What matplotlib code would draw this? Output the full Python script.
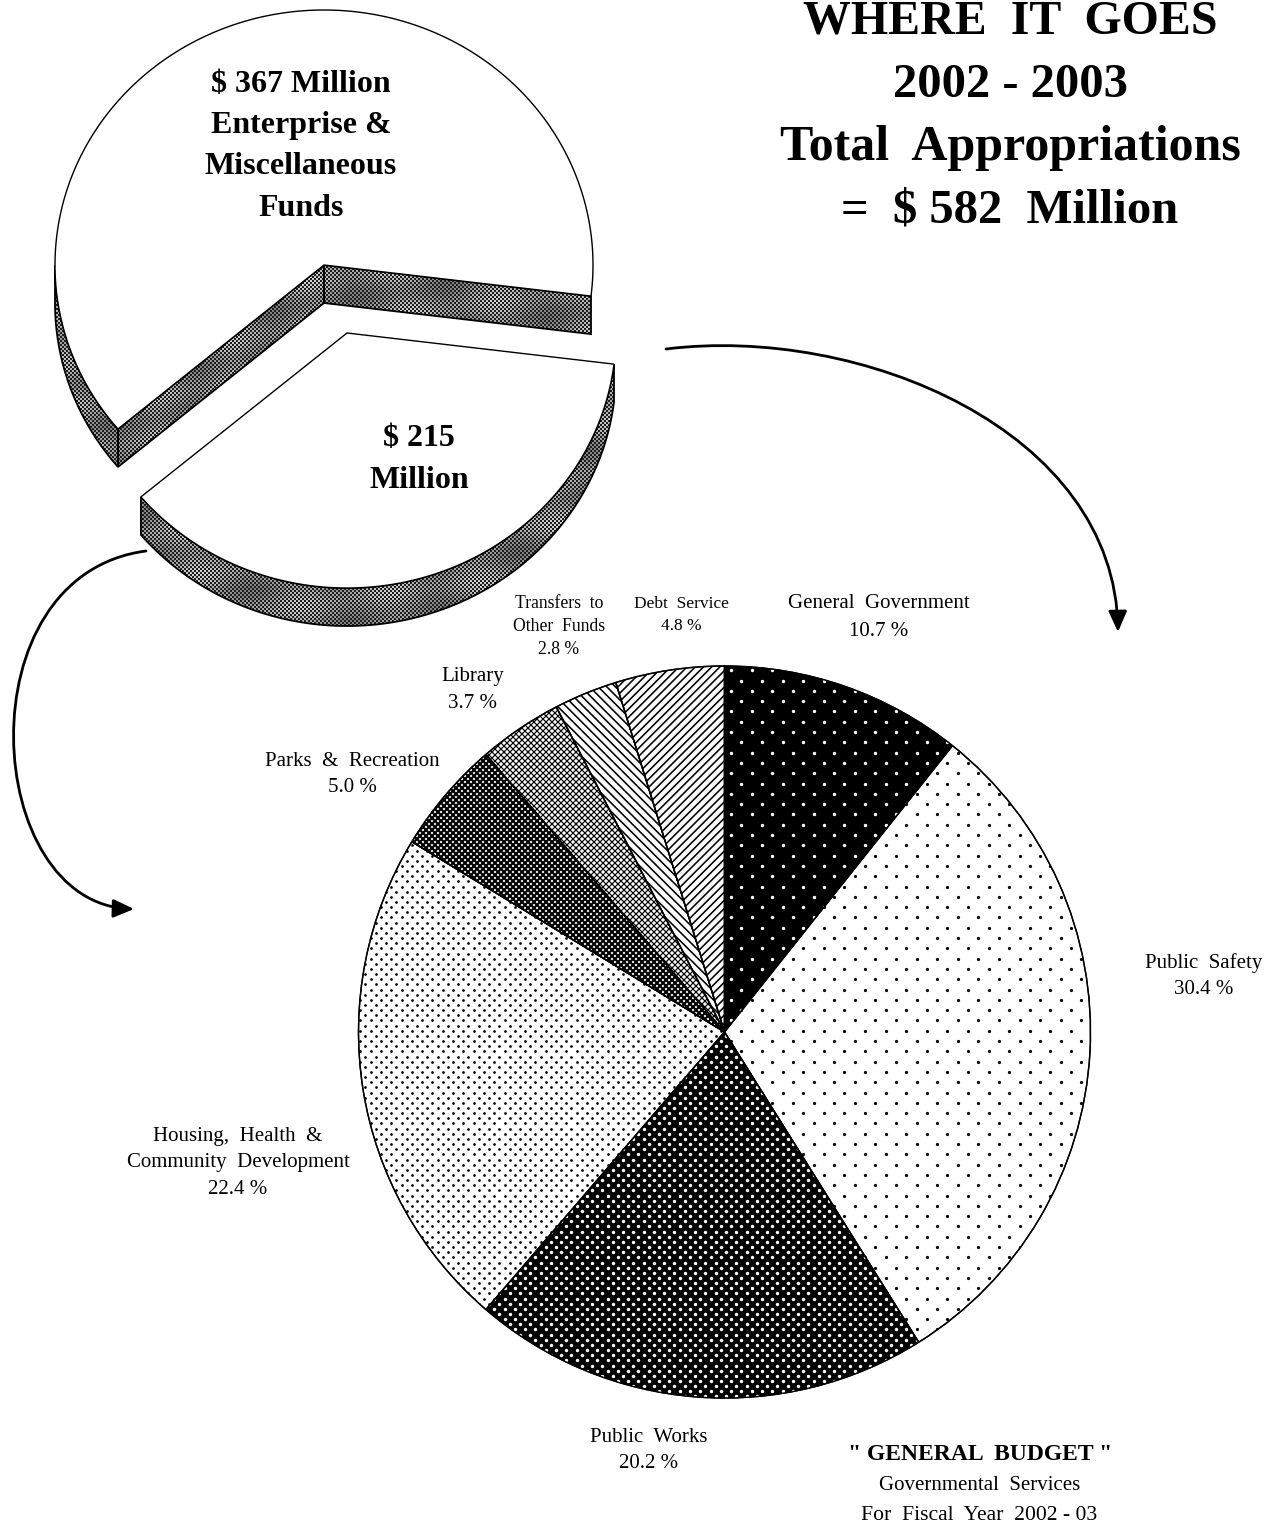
import numpy as np
import matplotlib
matplotlib.use('Agg')
import matplotlib.pyplot as plt
from matplotlib.collections import LineCollection
from matplotlib.patches import FancyArrowPatch, Polygon, Wedge
from matplotlib.path import Path

# budget split, $ million
fund_names = ["Enterprise & Miscellaneous Funds", "General Budget"]
fund_values = [367, 215]

# general budget, percent
budget_names = ["General  Government", "Public  Safety", "Public  Works",
                "Housing,  Health  &\nCommunity  Development", "Parks  &  Recreation",
                "Library", "Transfers  to\nOther  Funds", "Debt  Service"]
budget_values = [10.7, 30.4, 20.2, 22.4, 5.0, 3.7, 2.8, 4.8]

title_lines = ["WHERE  IT  GOES", "2002 - 2003", "Total  Appropriations", "=  $ 582  Million"]
fund_text_top = ["$ 367 Million", "Enterprise &", "Miscellaneous", "Funds"]
fund_text_low = ["$ 215", "Million"]
note_lines = ['" GENERAL  BUDGET "', "Governmental  Services", "For  Fiscal  Year  2002 - 03"]

W, H = 1266, 1522
SERIF = 'Liberation Serif'

fig = plt.figure(figsize=(W / 100, H / 100), dpi=100, facecolor='white')
ax = fig.add_axes([0, 0, 1, 1])


def dots(wedge, pitch, size, color):
	# staggered dot screen clipped to one slice
	xs, ys = [], []
	for row, y in enumerate(np.arange(660, 1400, pitch / 2)):
		off = pitch / 2 if row % 2 else 0
		for x in np.arange(350 + off, 1100, pitch):
			xs.append(x)
			ys.append(y)
	sc = ax.scatter(xs, ys, s=(size * 0.72) ** 2, c=color, linewidths=0, zorder=3)
	sc.set_clip_path(wedge)


def lines(wedge, pitch, lw, slope):
	# 45 degree line screen, slope is +1 or -1 on the page
	segs = []
	for c in np.arange(-2500, 2500, pitch):
		segs.append([(0, c), (W, c + slope * W)])
	lc = LineCollection(segs, colors='black', linewidths=lw * 0.72, zorder=3)
	ax.add_collection(lc)
	lc.set_clip_path(wedge)


def gray_fill(px, py):
	# halftone grey of the pie sides
	x0, x1 = int(min(px)) - 1, int(max(px)) + 2
	y0, y1 = int(min(py)) - 1, int(max(py)) + 2
	yy, xx = np.mgrid[y0:y1, x0:x1]
	light = 0.66 + 0.16 * np.sin(xx / 23.0 + yy / 17.0) * np.sin(xx / 41.0 - yy / 13.0)
	img = np.where(((xx // 2) + (yy // 2)) % 2 == 0, 0.12, light)
	poly = Polygon(np.column_stack([px, py]), closed=True, fc='none', ec='black', lw=1.3, zorder=2)
	ax.add_patch(poly)
	im = ax.imshow(img, cmap='gray', vmin=0, vmax=1, extent=(x0, x1, y1, y0),
				   interpolation='nearest', aspect='auto', zorder=1)
	im.set_clip_path(poly)


def arc(cx, cy, t):
	t = np.radians(t)
	return cx + 269 * np.cos(t), cy - 255 * np.sin(t)


def wall(x, y, depth=38):
	gray_fill(np.r_[x, x[::-1]], np.r_[y, y[::-1] + depth])


# upper pie, enterprise funds
sweep_top = fund_values[0] / sum(fund_values) * 360
t_top = np.linspace(-7, -7 + sweep_top, 200)
ax_t, ay_t = arc(324, 265, t_top)
wall(ax_t[t_top >= 180], ay_t[t_top >= 180])
wall(np.array([324, ax_t[-1]]), np.array([265, ay_t[-1]]))
wall(np.array([324, ax_t[0]]), np.array([265, ay_t[0]]))
ax.fill(np.r_[324, ax_t, 324], np.r_[265, ay_t, 265], fc='white', ec='black', lw=1, zorder=4)

# lower pie, general budget
sweep_low = fund_values[1] / sum(fund_values) * 360
t_low = np.linspace(220, 220 + sweep_low, 200)
ax_l, ay_l = arc(347, 333, t_low)
wall(ax_l, ay_l)
ax.fill(np.r_[347, ax_l, 347], np.r_[333, ay_l, 333], fc='white', ec='black', lw=1, zorder=4)

# main pie
wedges, _ = ax.pie(budget_values, center=(724.5, 1032), radius=366, startangle=-90,
				   counterclock=True, frame=True,
				   colors=['black', 'white', 'black', 'white', 'white', 'white', 'white', 'white'],
				   wedgeprops={'edgecolor': 'black', 'linewidth': 1, 'zorder': 2})
dots(wedges[0], 20.6, 3.4, 'white')
dots(wedges[1], 20.6, 3.2, 'black')
dots(wedges[2], 10.3, 3.4, 'white')
dots(wedges[3], 10.3, 2.7, 'black')
lines(wedges[4], 6.0, 2.2, 1)
lines(wedges[4], 6.0, 2.2, -1)
lines(wedges[5], 6.0, 1.2, 1)
lines(wedges[5], 6.0, 1.2, -1)
lines(wedges[6], 8.6, 1.6, 1)
lines(wedges[7], 8.2, 1.6, -1)

# outlines again on top of the screens
for w in wedges:
	ax.add_patch(Wedge(w.center, w.r, w.theta1, w.theta2, fc='none', ec='black', lw=1, zorder=4))

# arrows
right_path = Path([(666, 349), (860, 325), (1115, 430), (1118, 632)],
				  [Path.MOVETO, Path.CURVE4, Path.CURVE4, Path.CURVE4])
left_path = Path([(146, 551), (-38, 575), (-18, 905), (134, 909)],
				 [Path.MOVETO, Path.CURVE4, Path.CURVE4, Path.CURVE4])
for p in (right_path, left_path):
	ax.add_patch(FancyArrowPatch(path=p, arrowstyle='-|>,head_length=0.9,head_width=0.4',
								 mutation_scale=14, lw=2, color='black', zorder=5,
								 shrinkA=0, shrinkB=0))

# text
title_size = [34.5, 35, 36, 35]
for s, y, fs in zip(title_lines, [21, 85, 148, 211], title_size):
	ax.text(1010, y, s, family=SERIF, weight='bold', fontsize=fs, ha='center', va='center')
for s, y in zip(fund_text_top, [84, 125, 166, 208]):
	ax.text(301, y, s, family=SERIF, weight='bold', fontsize=23, ha='center', va='center', zorder=6)
for s, y in zip(fund_text_low, [439, 480]):
	ax.text(419, y, s, family=SERIF, weight='bold', fontsize=23, ha='center', va='center', zorder=6)

label_pos = [(879, 604), (1204, 963), (649, 1437), (238, 1136), (352, 761), (473, 676), (559, 604), (681, 604)]
label_size = [15, 15, 15, 15, 15, 15, 12.7, 12.5]
label_gap = [27, 27, 27, 27, 27, 27, 22.5, 22]
for name, val, (x, y), fs, gap in zip(budget_names, budget_values, label_pos, label_size, label_gap):
	parts = name.split("\n") + ["%.1f %%" % val]
	for i, s in enumerate(parts):
		ax.text(x, y + i * gap, s, family=SERIF, fontsize=fs, ha='center', va='center')

ax.text(980, 1454, note_lines[0], family=SERIF, weight='bold', fontsize=17, ha='center', va='center')
ax.text(980, 1486, note_lines[1], family=SERIF, fontsize=15, ha='center', va='center')
ax.text(979, 1515, note_lines[2], family=SERIF, fontsize=15.6, ha='center', va='center')

ax.set_xlim(0, W)
ax.set_ylim(H, 0)
ax.set_aspect('auto')
ax.axis('off')
fig.savefig('out.png', dpi=100)
